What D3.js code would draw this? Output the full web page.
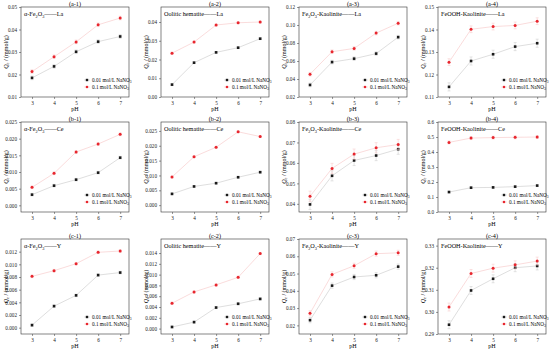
<!DOCTYPE html>
<html>
<head>
<meta charset="utf-8">
<script src="https://cdn.jsdelivr.net/npm/d3@7"></script>
<style>
  body { margin: 0; background: #fff; }
  text { font-family: 'Liberation Serif', 'Times New Roman', serif; }
</style>
</head>
<body>
<div id="chart"></div>
<script>
// pH values shared by every panel
const pH = [3, 4, 5, 6, 7];

const panelTitles = [
  '(a-1)', '(a-2)', '(a-3)', '(a-4)',
  '(b-1)', '(b-2)', '(b-3)', '(b-4)',
  '(c-1)', '(c-2)', '(c-3)', '(c-4)'
];
// material names; single digits are drawn as subscripts
const materials = [
  ['α-Fe', '2', 'O', '3'],
  ['Oolitic hematite'],
  ['Fe', '2', 'O', '3', '-Kaolinite'],
  ['FeOOH-Kaolinite']
];
const ions = ['La', 'Ce', 'Y'];

// Qe in 0.01 mol/L NaNO3, one array per material
const laLow = [
  [0.0185, 0.0236, 0.0301, 0.0346, 0.0369],
  [0.0066, 0.0183, 0.0238, 0.0263, 0.0311],
  [0.0334, 0.0588, 0.0626, 0.0682, 0.0865],
  [0.1145, 0.1260, 0.1290, 0.1324, 0.1339]
];
// Qe in 0.1 mol/L NaNO3
const laHigh = [
  [0.0213, 0.0279, 0.0345, 0.0421, 0.0451],
  [0.0234, 0.0293, 0.0384, 0.0396, 0.0400],
  [0.0453, 0.0703, 0.0740, 0.0910, 0.1020],
  [0.1255, 0.1401, 0.1413, 0.1418, 0.1437]
];
const ceLow = [
  [0.0032, 0.0059, 0.0077, 0.0098, 0.0143],
  [0.0038, 0.0063, 0.0074, 0.0094, 0.0111],
  [0.0397, 0.0537, 0.0612, 0.0636, 0.0667],
  [0.133, 0.162, 0.164, 0.169, 0.176]
];
const ceHigh = [
  [0.0054, 0.0096, 0.0160, 0.0184, 0.0213],
  [0.0095, 0.0163, 0.0195, 0.0247, 0.0231],
  [0.0437, 0.0573, 0.0643, 0.0674, 0.0690],
  [0.464, 0.493, 0.496, 0.498, 0.500]
];
const yLow = [
  [0.0004, 0.0034, 0.0051, 0.0083, 0.0087],
  [0.0003, 0.0012, 0.0039, 0.0046, 0.0055],
  [0.023, 0.043, 0.048, 0.049, 0.054],
  [0.2942, 0.3097, 0.315, 0.320, 0.3208]
];
const yHigh = [
  [0.0081, 0.0090, 0.0101, 0.0119, 0.0121],
  [0.0047, 0.0068, 0.0081, 0.0095, 0.0139],
  [0.027, 0.0495, 0.0545, 0.0615, 0.062],
  [0.3022, 0.3174, 0.3198, 0.3213, 0.3230]
];
// rough error bar half-widths per panel
const errLow = [0.0008, 0.0005, 0.002, 0.0018, 0.0004, 0.0003, 0.0025, 0.006, 0.0002, 0.0002, 0.0015, 0.0018];
const errHigh = [0.0008, 0.0005, 0.002, 0.0015, 0.0004, 0.0003, 0.0025, 0.01, 0.0002, 0.0002, 0.0015, 0.0018];

// y axis ranges and ticks per panel
const yDomains = [
  [0.01, 0.05], [0, 0.048], [0.02, 0.12], [0.11, 0.15],
  [-0.002, 0.025], [-0.0023, 0.028], [0.036, 0.08], [0, 0.6],
  [-0.001, 0.014], [-0.001, 0.0166], [0.015, 0.07], [0.29, 0.333]
];
const yTicks = [
  [0.01, 0.02, 0.03, 0.04, 0.05],
  [0, 0.01, 0.02, 0.03, 0.04],
  [0.02, 0.04, 0.06, 0.08, 0.10, 0.12],
  [0.11, 0.12, 0.13, 0.14, 0.15],
  [0, 0.005, 0.010, 0.015, 0.020, 0.025],
  [0, 0.005, 0.010, 0.015, 0.020, 0.025],
  [0.04, 0.05, 0.06, 0.07, 0.08],
  [0, 0.1, 0.2, 0.3, 0.4, 0.5, 0.6],
  [0, 0.002, 0.004, 0.006, 0.008, 0.010, 0.012],
  [0, 0.002, 0.004, 0.006, 0.008, 0.010, 0.012, 0.014],
  [0.02, 0.03, 0.04, 0.05, 0.06, 0.07],
  [0.29, 0.30, 0.31, 0.32, 0.33]
];
const yFormats = ['.2f', '.2f', '.2f', '.2f', '.3f', '.3f', '.2f', '.1f', '.3f', '.3f', '.2f', '.2f'];

const legendLabels = ['0.01 mol/L NaNO', '0.1 mol/L NaNO'];

const lowSeries = [laLow, ceLow, yLow];
const highSeries = [laHigh, ceHigh, yHigh];

// Layout
const width = 550, height = 353;
const colLeft = [21, 161, 299, 438];
const frameW = 108;
const rowTop = [7, 122, 239];
const rowBottom = [97, 212, 334];

const svg = d3.select('#chart')
  .append('svg')
  .attr('width', width)
  .attr('height', height);

// write text parts, single digits lowered as subscripts
function addSubText(sel, parts, size) {
  let shift = 0;
  parts.forEach(p => {
    const sub = /^\d$/.test(p);
    const target = sub ? size * 0.25 : 0;
    sel.append('tspan')
      .attr('font-size', sub ? size * 0.7 : size)
      .attr('dy', target - shift)
      .text(p);
    shift = target;
  });
  return shift;
}

for (let r = 0; r < 3; r++) {
  for (let c = 0; c < 4; c++) {
    const idx = r * 4 + c;
    const left = colLeft[c], right = left + frameW;
    const top = rowTop[r], bottom = rowBottom[r];

    const x = d3.scaleLinear().domain([2.5, 7.4]).range([left, right]);
    const y = d3.scaleLinear().domain(yDomains[idx]).range([bottom, top]);

    const g = svg.append('g');

    // frame
    g.append('rect')
      .attr('x', left).attr('y', top)
      .attr('width', right - left).attr('height', bottom - top)
      .attr('fill', 'none').attr('stroke', '#333').attr('stroke-width', 0.6);

    // axes
    const xAxis = g.append('g')
      .attr('transform', 'translate(0,' + bottom + ')')
      .call(d3.axisBottom(x).tickValues(pH).tickSize(2).tickPadding(2).tickFormat(d3.format('d')));
    const yAxis = g.append('g')
      .attr('transform', 'translate(' + left + ',0)')
      .call(d3.axisLeft(y).tickValues(yTicks[idx]).tickSize(2).tickPadding(2).tickFormat(d3.format(yFormats[idx])));
    [xAxis, yAxis].forEach(a => {
      a.select('.domain').remove();
      a.selectAll('line').attr('stroke', '#333').attr('stroke-width', 0.5);
      a.selectAll('text').attr('font-size', 5.2).attr('fill', '#222')
        .style('font-family', "'Liberation Serif', serif");
    });

    // series
    const series = [
      { vals: lowSeries[r][c], err: errLow[idx], line: '#c8c8c8', color: '#1a1a1a', shape: 'square' },
      { vals: highSeries[r][c], err: errHigh[idx], line: '#f6c4c4', color: '#e8262e', shape: 'circle' }
    ];
    const line = d3.line().x((d, i) => x(pH[i])).y(d => y(d));

    series.forEach(s => {
      g.append('path')
        .datum(s.vals)
        .attr('d', line)
        .attr('fill', 'none')
        .attr('stroke', s.line)
        .attr('stroke-width', 0.6);

      // error bars
      const eb = g.append('g').attr('stroke', s.line).attr('stroke-width', 0.5);
      s.vals.forEach((v, i) => {
        const px = x(pH[i]);
        eb.append('line').attr('x1', px).attr('x2', px).attr('y1', y(v - s.err)).attr('y2', y(v + s.err));
        eb.append('line').attr('x1', px - 1.5).attr('x2', px + 1.5).attr('y1', y(v - s.err)).attr('y2', y(v - s.err));
        eb.append('line').attr('x1', px - 1.5).attr('x2', px + 1.5).attr('y1', y(v + s.err)).attr('y2', y(v + s.err));
      });

      if (s.shape === 'square') {
        g.selectAll(null).data(s.vals).enter().append('rect')
          .attr('x', (d, i) => x(pH[i]) - 1.3).attr('y', d => y(d) - 1.3)
          .attr('width', 2.6).attr('height', 2.6)
          .attr('fill', s.color);
      } else {
        g.selectAll(null).data(s.vals).enter().append('circle')
          .attr('cx', (d, i) => x(pH[i])).attr('cy', d => y(d))
          .attr('r', 1.5)
          .attr('fill', s.color);
      }
    });

    // title
    g.append('text')
      .attr('x', (left + right) / 2).attr('y', top - 1.5)
      .attr('text-anchor', 'middle').attr('font-size', 6.2)
      .text(panelTitles[idx]);

    // material/ion label
    const lab = g.append('text')
      .attr('x', left + 3).attr('y', top + 9)
      .attr('font-size', 6.2);
    const shift = addSubText(lab, materials[c], 6.2);
    lab.append('tspan').attr('font-size', 6.2).attr('dy', -shift).text('——' + ions[r]);

    // legend
    const lx = left + 66;
    [0, 1].forEach(k => {
      const ly = bottom - 17 + k * 7;
      const s = series[k];
      g.append('line').attr('x1', lx - 3).attr('x2', lx + 3).attr('y1', ly).attr('y2', ly)
        .attr('stroke', s.line).attr('stroke-width', 0.5);
      if (s.shape === 'square') {
        g.append('rect').attr('x', lx - 1.2).attr('y', ly - 1.2).attr('width', 2.4).attr('height', 2.4).attr('fill', s.color);
      } else {
        g.append('circle').attr('cx', lx).attr('cy', ly).attr('r', 1.3).attr('fill', s.color);
      }
      const t = g.append('text').attr('x', lx + 5).attr('y', ly + 1.8).attr('font-size', 5.2);
      t.append('tspan').text(legendLabels[k]);
      t.append('tspan').attr('font-size', 3.6).attr('dy', 1.2).text('3');
    });

    // x label
    g.append('text')
      .attr('x', (left + right) / 2).attr('y', bottom + 14)
      .attr('text-anchor', 'middle').attr('font-size', 6)
      .text('pH');

    // y label
    const yl = g.append('text')
      .attr('transform', 'translate(' + (left - 13) + ',' + ((top + bottom) / 2) + ') rotate(-90)')
      .attr('text-anchor', 'middle').attr('font-size', 6);
    yl.append('tspan').attr('font-style', 'italic').text('Q');
    yl.append('tspan').attr('font-size', 4.2).attr('dy', 1.2).text('e');
    yl.append('tspan').attr('dy', -1.2).text(' / (mmol/g)');
  }
}
</script>
</body>
</html>
